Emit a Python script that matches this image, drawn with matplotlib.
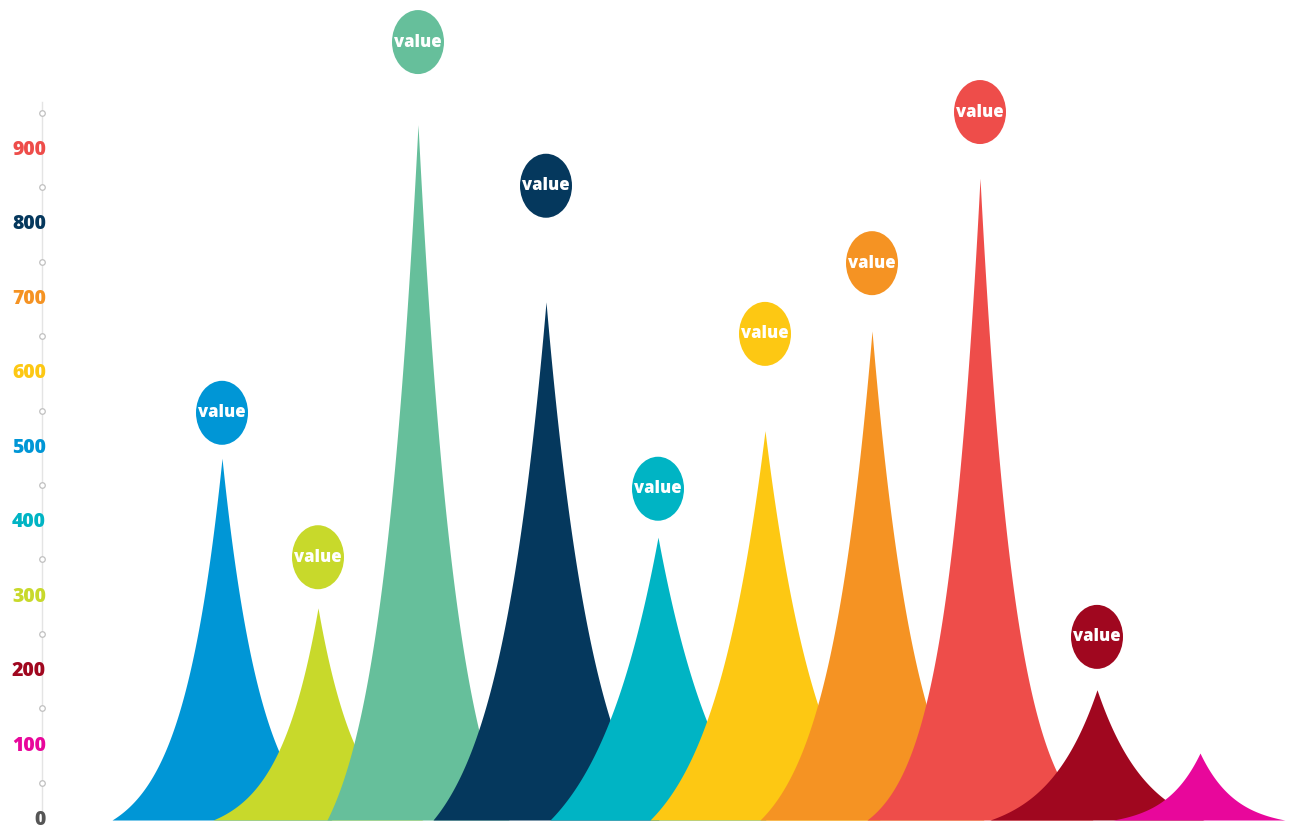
import numpy as np
import matplotlib.pyplot as plt
from matplotlib.patches import Ellipse

# ---- data ----
series_names = ["blue", "lime", "green", "navy", "cyan", "yellow", "orange", "red", "darkred", "magenta"]
peak_values = [486, 285, 934, 696, 380, 523, 657, 862, 175, 90]
bubble_values = [547, 353, 1045, 852, 445, 653, 748, 951, 246, None]
bubble_texts = ["value"] * 9 + [None]
tick_values = [0, 100, 200, 300, 400, 500, 600, 700, 800, 900]
tick_labels = ["0", "100", "200", "300", "400", "500", "600", "700", "800", "900"]
minor_tick_values = [50, 150, 250, 350, 450, 550, 650, 750, 850, 950]

# ---- layout / style ----
peak_x = [222, 318, 418, 546, 658, 765, 872, 980, 1097, 1200]
base_left = [110, 105, 91, 113, 108, 115, 112, 113, 107, 87]
base_right = [110, 105, 91, 113, 108, 115, 112, 113, 107, 85]
decay = [40, 40, 40, 50, 65, 55, 45, 35, 50, 35]
colors = ["#0096D6", "#C8D92B", "#66BF9B", "#05385D", "#00B4C4",
          "#FDC813", "#F59323", "#EE4D4A", "#A0071F", "#E8079B"]
tick_colors = ["#555555", "#E8079B", "#A0071F", "#C8D92B", "#00B4C4",
               "#0096D6", "#FDC813", "#F59323", "#05385D", "#EE4D4A"]

fig = plt.figure(figsize=(13.02, 8.39), dpi=100)
ax = fig.add_axes([0, 0, 1, 1])
ax.set_xlim(0, 1302)
ax.set_ylim(-25.5, 1101.5)
ax.axis("off")

# y axis line and ticks
ax.plot([42, 42], [0, 965], color="#e4e4e4", lw=1, zorder=1)
ax.plot([42] * len(minor_tick_values), minor_tick_values, ls="none", marker="o",
        markersize=4, mfc="white", mec="#c0c0c0", mew=0.9, zorder=1)
for v, lab, c in zip(tick_values, tick_labels, tick_colors):
    ax.text(46, v, lab, ha="right", va="center", color=c, fontsize=14,
            fontweight="heavy", family=["Open Sans", "DejaVu Sans"], zorder=3)

# peaks
for i, (cx, h) in enumerate(zip(peak_x, peak_values)):
    wl, wr, w = base_left[i], base_right[i], decay[i]
    xl = np.linspace(cx - wl, cx, 600)
    xr = np.linspace(cx, cx + wr, 600)[1:]
    dl = cx - xl
    dr = xr - cx
    fl = (np.exp(-dl / w) - np.exp(-wl / w)) / (1 - np.exp(-wl / w))
    fr = (np.exp(-dr / w) - np.exp(-wr / w)) / (1 - np.exp(-wr / w))
    x = np.concatenate([xl, xr])
    y = h * np.concatenate([fl, fr])
    ax.fill_between(x, 0, y, color=colors[i], lw=0, zorder=5 + i)

# bubbles
px_per_unit = 839 / (1101.5 + 25.5)
for i, (cx, bv, t) in enumerate(zip(peak_x, bubble_values, bubble_texts)):
    if bv is None:
        continue
    ax.add_patch(Ellipse((cx, bv), width=52, height=64 / px_per_unit,
                         color=colors[i], lw=0, zorder=30))
    ax.text(cx, bv, t, ha="center", va="center", color="white", fontsize=12,
            fontweight="heavy", family=["Open Sans", "DejaVu Sans"], zorder=31)

fig.savefig("out.png", dpi=100, facecolor="white")
